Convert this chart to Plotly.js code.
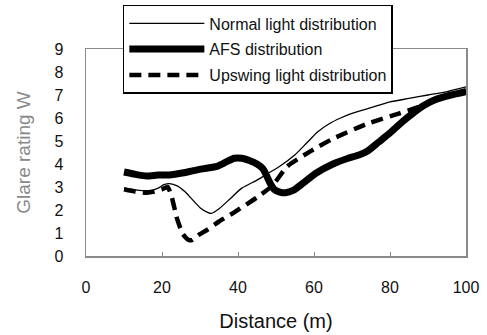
<!DOCTYPE html>
<html><head><meta charset="utf-8">
<script src="https://cdn.plot.ly/plotly-3.0.1.min.js"></script>
<style>html,body{margin:0;padding:0;background:#fff}#chart{width:487px;height:335px}</style>
</head><body><div id="chart"></div>
<script>
const normalX = [10, 12, 14, 17, 19, 20.5, 22, 24, 26, 28, 30, 32, 33, 35, 38, 41, 45, 48, 51, 55, 58, 61, 64, 67, 70, 75, 80, 85, 90, 95, 100];
const normalY = [2.95, 2.9, 2.85, 2.85, 2.95, 3.1, 3.15, 3.05, 2.8, 2.45, 2.1, 1.9, 1.85, 2.05, 2.5, 2.95, 3.3, 3.6, 3.9, 4.4, 4.9, 5.4, 5.75, 6.0, 6.2, 6.45, 6.7, 6.85, 7.0, 7.15, 7.35];

const afsX = [10, 13, 16, 19, 22, 25, 28, 31, 34.5, 37, 39, 41, 43, 45, 46.5, 47.5, 48.5, 49.5, 51, 52.5, 54.5, 57, 60.5, 65, 69, 72, 74, 77, 80, 83, 86, 89, 92, 96, 100];
const afsY = [3.65, 3.55, 3.48, 3.52, 3.52, 3.6, 3.7, 3.8, 3.9, 4.1, 4.25, 4.25, 4.15, 4.0, 3.8, 3.5, 3.15, 2.9, 2.78, 2.75, 2.85, 3.15, 3.6, 4.0, 4.25, 4.4, 4.55, 4.95, 5.35, 5.8, 6.2, 6.55, 6.8, 7.0, 7.15];

const upX = [10, 13, 16, 18, 20, 21.5, 22.5, 24, 25.5, 27, 28, 29.5, 32, 35, 39, 45, 49, 53, 59, 65, 74, 82.5, 87, 92, 96, 100];
const upY = [2.9, 2.8, 2.75, 2.8, 2.9, 3.0, 2.6, 1.6, 0.95, 0.7, 0.7, 0.9, 1.15, 1.5, 1.9, 2.55, 3.05, 3.9, 4.55, 5.1, 5.75, 6.2, 6.45, 6.75, 7.0, 7.2];

const names = ['Normal light distribution', 'AFS distribution', 'Upswing light distribution'];
const xTicks = [0, 20, 40, 60, 80, 100];
const yTicks = [0, 1, 2, 3, 4, 5, 6, 7, 8, 9];

const FONT = 'Liberation Sans, Arial, sans-serif';

const traces = [
  {x: normalX, y: normalY, name: names[0], mode: 'lines', line: {color: '#000', width: 1.3, shape: 'spline', smoothing: 0.6}, legendgroup: 'a'},
  {x: afsX, y: afsY, name: names[1], mode: 'lines', line: {color: '#000', width: 7, shape: 'spline', smoothing: 0.6}, legendgroup: 'b'},
  {x: upX, y: upY, name: names[2], mode: 'lines', line: {color: '#000', width: 4.5, dash: '12px,7px', shape: 'spline', smoothing: 0.5}, legendgroup: 'c'}
];

const axisCommon = {
  showgrid: false, zeroline: false, showline: true, mirror: true,
  linecolor: '#8a8a8a', linewidth: 1.5,
  tickfont: {family: FONT, size: 16, color: '#111'}
};

const layout = {
  width: 487, height: 335,
  margin: {l: 86, r: 21, t: 49, b: 79, autoexpand: false},
  paper_bgcolor: '#fff', plot_bgcolor: '#fff',
  showlegend: true,
  legend: {
    x: 0.097, y: 1.213, xanchor: 'left', yanchor: 'top',
    bgcolor: '#fff', bordercolor: '#000', borderwidth: 1.5,
    font: {family: FONT, size: 16, color: '#111'},
    itemwidth: 75, tracegroupgap: 2, traceorder: 'grouped'
  },
  xaxis: Object.assign({}, axisCommon, {
    range: [0, 100], tickvals: xTicks, ticktext: xTicks.map(String),
    ticks: 'inside', ticklen: 4, tickcolor: '#8a8a8a', ticklabelstandoff: 16,
    title: {text: 'Distance (m)', font: {family: FONT, size: 20, color: '#111'}, standoff: 19}
  }),
  yaxis: Object.assign({}, axisCommon, {
    range: [0, 9], tickvals: yTicks, ticktext: yTicks.map(String),
    ticks: '', ticklabelstandoff: 18,
    title: {text: 'Glare rating W', font: {family: FONT, size: 19, color: '#888'}, standoff: 18}
  })
};

Plotly.newPlot('chart', traces, layout, {displayModeBar: false, staticPlot: true});
</script></body></html>
